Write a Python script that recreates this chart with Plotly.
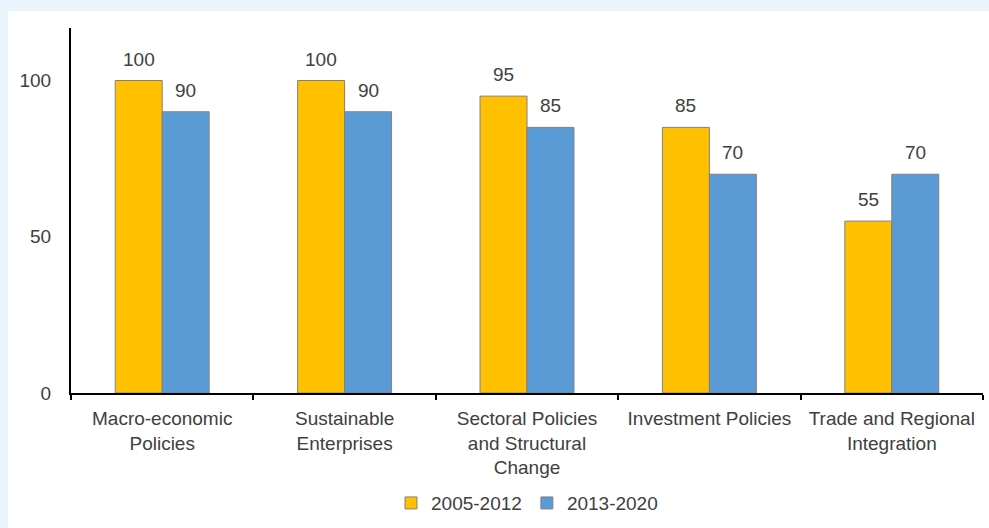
import plotly.graph_objects as go

# Policy areas and their scores for the two periods
categories = [
    "Macro-economic<br>Policies",
    "Sustainable<br>Enterprises",
    "Sectoral Policies<br>and Structural<br>Change",
    "Investment Policies",
    "Trade and Regional<br>Integration",
]
period_names = ["2005-2012", "2013-2020"]
scores_2005_2012 = [100, 100, 95, 85, 55]
scores_2013_2020 = [90, 90, 85, 70, 70]
y_ticks = [0, 50, 100]

W, H = 989, 528
M_L, M_R, M_T, M_B = 71, 6, 28, 132
plot_w = W - M_L - M_R
plot_h = H - M_T - M_B

BAR_GAP = 0.485
bar_px = plot_w / len(categories) * (1 - BAR_GAP) / 2

FONT = "Arial, Liberation Sans, sans-serif"
TXT = "#404040"
FS = 19

fig = go.Figure()
series = [
    (period_names[0], scores_2005_2012, "#FFC000"),
    (period_names[1], scores_2013_2020, "#5B9BD5"),
]
for name, vals, color in series:
    fig.add_trace(go.Bar(
        x=categories, y=vals, name=name,
        marker=dict(color=color, line=dict(color="#808080", width=1)),
        hoverinfo="skip",
    ))

# value labels above each bar
annotations = []
for i, (name, vals, color) in enumerate(series):
    shift = (-1 if i == 0 else 1) * bar_px / 2
    for cat, v in zip(categories, vals):
        annotations.append(dict(
            x=cat, y=v, xref="x", yref="y", text=str(v), showarrow=False,
            xshift=shift, yshift=9, yanchor="bottom",
            font=dict(family=FONT, size=FS, color=TXT),
        ))

# white card over the light-blue page background
shapes = [dict(
    type="rect", xref="paper", yref="paper", layer="below",
    x0=(8 - M_L) / plot_w, x1=1.2,
    y0=-0.6, y1=(H - M_B - 11) / plot_h,
    fillcolor="white", line=dict(width=0),
)]

fig.update_layout(
    width=W, height=H,
    margin=dict(l=M_L, r=M_R, t=M_T, b=M_B, pad=0),
    paper_bgcolor="#EAF4FD",
    plot_bgcolor="white",
    barmode="group", bargap=BAR_GAP, bargroupgap=0,
    font=dict(family=FONT, size=FS, color=TXT),
    showlegend=True,
    legend=dict(
        orientation="h", x=0.5, xanchor="center",
        y=(H - M_B - 507) / plot_h, yanchor="middle",
        font=dict(family=FONT, size=FS, color=TXT),
        bgcolor="rgba(0,0,0,0)",
    ),
    annotations=annotations,
    shapes=shapes,
    xaxis=dict(
        showline=True, linecolor="black", linewidth=2,
        ticks="outside", ticklen=5, tickwidth=1.5, tickcolor="black",
        tickson="boundaries", showgrid=False, zeroline=False,
        ticklabelstandoff=7,
        tickfont=dict(family=FONT, size=FS, color=TXT),
    ),
    yaxis=dict(
        range=[0, 116.8], tickvals=y_ticks,
        showline=True, linecolor="black", linewidth=2,
        ticks="", showgrid=False, zeroline=False,
        ticklabelstandoff=14,
        tickfont=dict(family=FONT, size=FS, color=TXT),
    ),
)

fig.write_html("out.html")
